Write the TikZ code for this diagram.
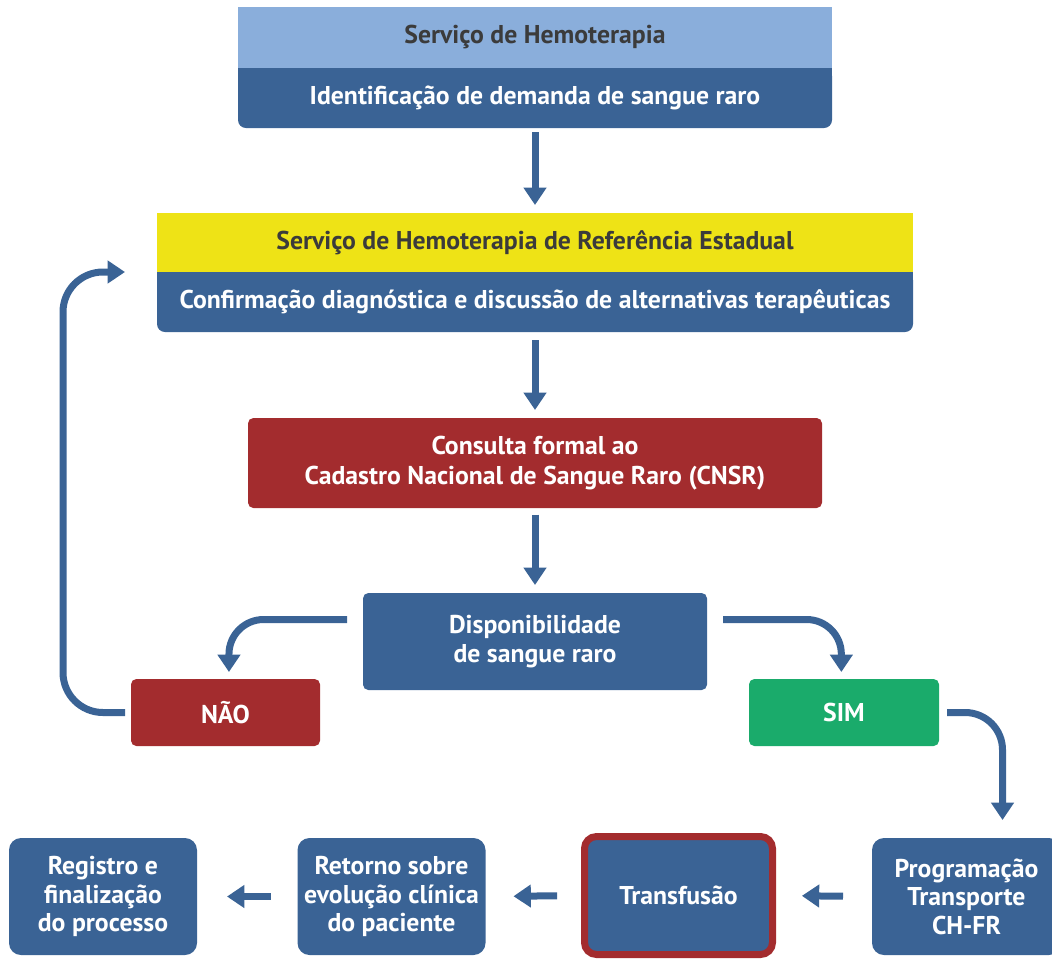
\documentclass[tikz,border=0pt]{standalone}
\usepackage{fontspec}
\setmainfont{PT Sans}
\usetikzlibrary{arrows.meta}
\definecolor{dblue}{HTML}{3A6395}
\definecolor{lblue}{HTML}{8AAEDB}
\definecolor{yel}{HTML}{EEE316}
\definecolor{dred}{HTML}{A32C2E}
\definecolor{grn}{HTML}{1AAB6B}
\definecolor{htext}{HTML}{3B3B3B}
\tikzset{
  box/.style={fill=dblue, text=white, font=\bfseries\fontsize{19.3}{22.3}\selectfont, inner sep=0pt, outer sep=0pt, align=center, rounded corners=6pt},
  hdr/.style={text=htext, font=\bfseries\fontsize{19.3}{22}\selectfont, inner sep=0pt, outer sep=0pt},
  bbox/.style={box, font=\bfseries\fontsize{19.3}{21.4}\selectfont, minimum width=141pt, minimum height=87.75pt, rounded corners=9pt},
  arr/.style={draw=dblue, line width=5.25pt, -{Triangle[width=16.5pt,length=13pt]}},
}
\begin{document}
\begin{tikzpicture}[x=0.75pt,y=-0.75pt]
\useasboundingbox (0,0) rectangle (1052,958);
% box 1
\node[box, minimum width=445.5pt, minimum height=45pt] (b1) at (535,98) {Identificação de demanda de sangue raro};
\fill[dblue] (b1.north west) rectangle ([yshift=-8pt]b1.north east);
\node[hdr, fill=lblue, minimum width=445.5pt, minimum height=45.75pt] (h1) at (535,37.5) {Serviço de Hemoterapia};
% box 2
\node[box, minimum width=567pt, minimum height=45pt] (b2) at (535,302) {Confirmação diagnóstica e discussão de alternativas terapêuticas};
\fill[dblue] (b2.north west) rectangle ([yshift=-8pt]b2.north east);
\node[hdr, fill=yel, minimum width=567pt, minimum height=44.25pt] (h2) at (535,242.5) {Serviço de Hemoterapia de Referência Estadual};
% CNSR
\node[box, fill=dred, rounded corners=4pt, minimum width=430.5pt, minimum height=67.5pt] (cnsr) at (535,463) {Consulta formal ao\\Cadastro Nacional de Sangue Raro (CNSR)};
% disp
\node[box, rounded corners=4pt, minimum width=258pt, minimum height=72.75pt] (disp) at (535,641.5) {Disponibilidade\\de sangue raro};
\node[box, fill=dred, rounded corners=4pt, minimum width=141.75pt, minimum height=50.25pt] (nao) at (225.5,712.5) {NÃO};
\node[box, fill=grn, rounded corners=4pt, minimum width=142.5pt, minimum height=50.25pt] (sim) at (844,712.5) {SIM};
% bottom row
\node[bbox] (reg) at (103,896.5) {Registro e\\finalização\\do processo};
\node[bbox] (ret) at (391.5,896.5) {Retorno sobre\\evolução clínica\\do paciente};
\node[bbox, draw=dred, line width=5.25pt, minimum height=88.5pt] (tra) at (678.5,895.5) {Transfusão};
\node[bbox, minimum width=141.75pt] (prog) at (966.5,896.5) {Programação\\Transporte\\CH-FR};
% arrows
\draw[arr, shorten <=3pt, shorten >=6pt] (b1.south) -- (h2.north);
\draw[arr, shorten <=6pt, shorten >=6pt] (b2.south) -- (cnsr.north);
\draw[arr, shorten <=5pt, shorten >=6pt] (cnsr.south) -- (disp.north);
\draw[arr, rounded corners=26pt] ([xshift=-12pt,yshift=16.5pt]disp.west) -| ([xshift=2.6pt,yshift=5.25pt]nao.north);
\draw[arr, rounded corners=26pt] ([xshift=12pt,yshift=16.5pt]disp.east) -| ([xshift=-2pt,yshift=5.25pt]sim.north);
\draw[arr, rounded corners=28pt] ([xshift=6pt]sim.east) -| ([xshift=27pt,yshift=13.5pt]prog.north);
\coordinate (loopc) at (63,272);
\draw[arr, rounded corners=30pt] ([xshift=-4.5pt]nao.west) -| (loopc) -- ([xshift=-24pt]b2.north west);
\draw[arr, shorten <=21.75pt, shorten >=22pt] (prog.west) -- (tra.east);
\draw[arr, shorten <=20.6pt, shorten >=21pt] (tra.west) -- (ret.east);
\draw[arr, shorten <=20pt, shorten >=22.5pt] (ret.west) -- (reg.east);
\end{tikzpicture}
\end{document}
